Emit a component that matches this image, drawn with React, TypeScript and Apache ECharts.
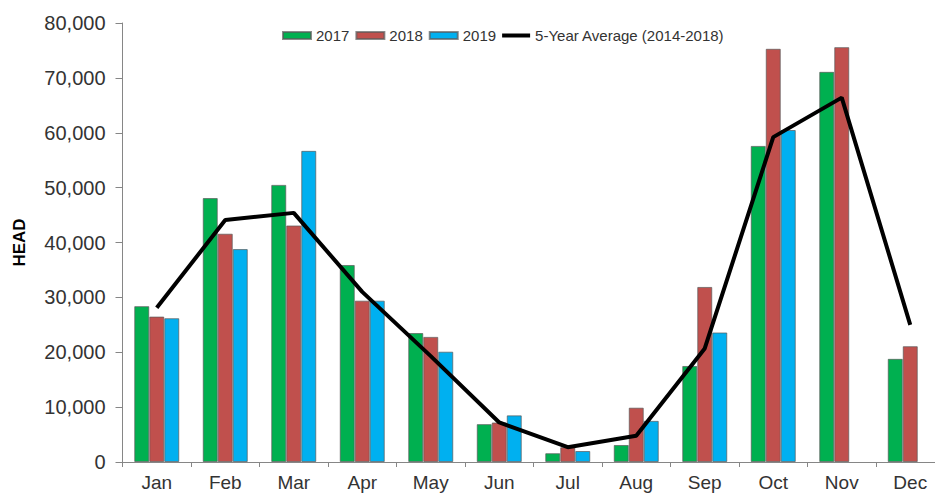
import React, { useEffect, useRef } from "react";
import * as echarts from "echarts";

const months = ["Jan", "Feb", "Mar", "Apr", "May", "Jun", "Jul", "Aug", "Sep", "Oct", "Nov", "Dec"];
const y2017 = [28400, 48100, 50500, 35900, 23500, 6900, 1600, 3100, 17500, 57600, 71100, 18800];
const y2018 = [26500, 41600, 43100, 29400, 22800, 7200, 2700, 9900, 31900, 75300, 75600, 21100];
const y2019 = [26200, 38800, 56700, 29400, 20100, 8500, 2000, 7500, 23600, 60500, null, null];
const avg5 = [28100, 44100, 45400, 31000, 19300, 7200, 2700, 4800, 20700, 59200, 66400, 25000];

const FONT = "'Liberation Sans', Arial, sans-serif";
const TXT = "#333333";
const AXIS = "#868686";

export default function App() {
  const ref = useRef<HTMLDivElement>(null);
  useEffect(() => {
    document.body.style.margin = "0";
    const chart = echarts.init(ref.current!, undefined, { renderer: "svg" });
    const barStyle = (c: string) => ({
      color: c,
      borderColor: "rgba(90,90,90,0.7)",
      borderWidth: 1,
    });
    chart.setOption({
      animation: false,
      textStyle: { fontFamily: FONT },
      legend: {
        left: 282,
        top: 28,
        padding: 0,
        itemWidth: 28,
        itemHeight: 7,
        itemGap: 6,
        textStyle: { fontFamily: FONT, fontSize: 15, color: TXT },
        data: [
          { name: "2017", icon: "rect" },
          { name: "2018", icon: "rect" },
          { name: "2019", icon: "rect" },
          {
            name: "5-Year Average (2014-2018)",
            icon: "path://M0,0H28V4H0Z",
            itemStyle: { color: "#000", borderWidth: 0 },
          },
        ],
      },
      grid: {
        left: 122.5,
        top: 23,
        width: 822,
        height: 439,
        containLabel: false,
        outerBoundsMode: "none",
      },
      xAxis: {
        type: "category",
        data: months,
        axisLine: { lineStyle: { color: AXIS, width: 1 } },
        axisTick: { show: true, length: 5, lineStyle: { color: AXIS } },
        axisLabel: { fontFamily: FONT, fontSize: 19, color: TXT, margin: 11 },
      },
      yAxis: {
        type: "value",
        min: 0,
        max: 80000,
        interval: 10000,
        name: "HEAD",
        nameLocation: "middle",
        nameRotate: 90,
        nameGap: 95,
        nameTextStyle: { fontFamily: FONT, fontSize: 17, fontWeight: "bold", color: "#000" },
        splitLine: { show: false },
        axisLine: { show: true, lineStyle: { color: AXIS, width: 1 } },
        axisTick: { show: true, length: 7, lineStyle: { color: AXIS } },
        axisLabel: {
          fontFamily: FONT,
          fontSize: 20,
          color: TXT,
          margin: 17,
          formatter: (v: number) => v.toLocaleString("en-US"),
        },
      },
      series: [
        { name: "2017", type: "bar", data: y2017, barWidth: 15, barGap: "0%", itemStyle: barStyle("#00B050") },
        { name: "2018", type: "bar", data: y2018, barWidth: 15, barGap: "0%", itemStyle: barStyle("#C0504D") },
        { name: "2019", type: "bar", data: y2019, barWidth: 15, barGap: "0%", itemStyle: barStyle("#00B0F0") },
        {
          name: "5-Year Average (2014-2018)",
          type: "line",
          data: avg5,
          symbol: "none",
          showSymbol: false,
          z: 5,
          lineStyle: { color: "#000", width: 4 },
          itemStyle: { color: "#000" },
        },
      ],
    });
    return () => chart.dispose();
  }, []);
  return <div ref={ref} style={{ width: 935, height: 496 }} />;
}
